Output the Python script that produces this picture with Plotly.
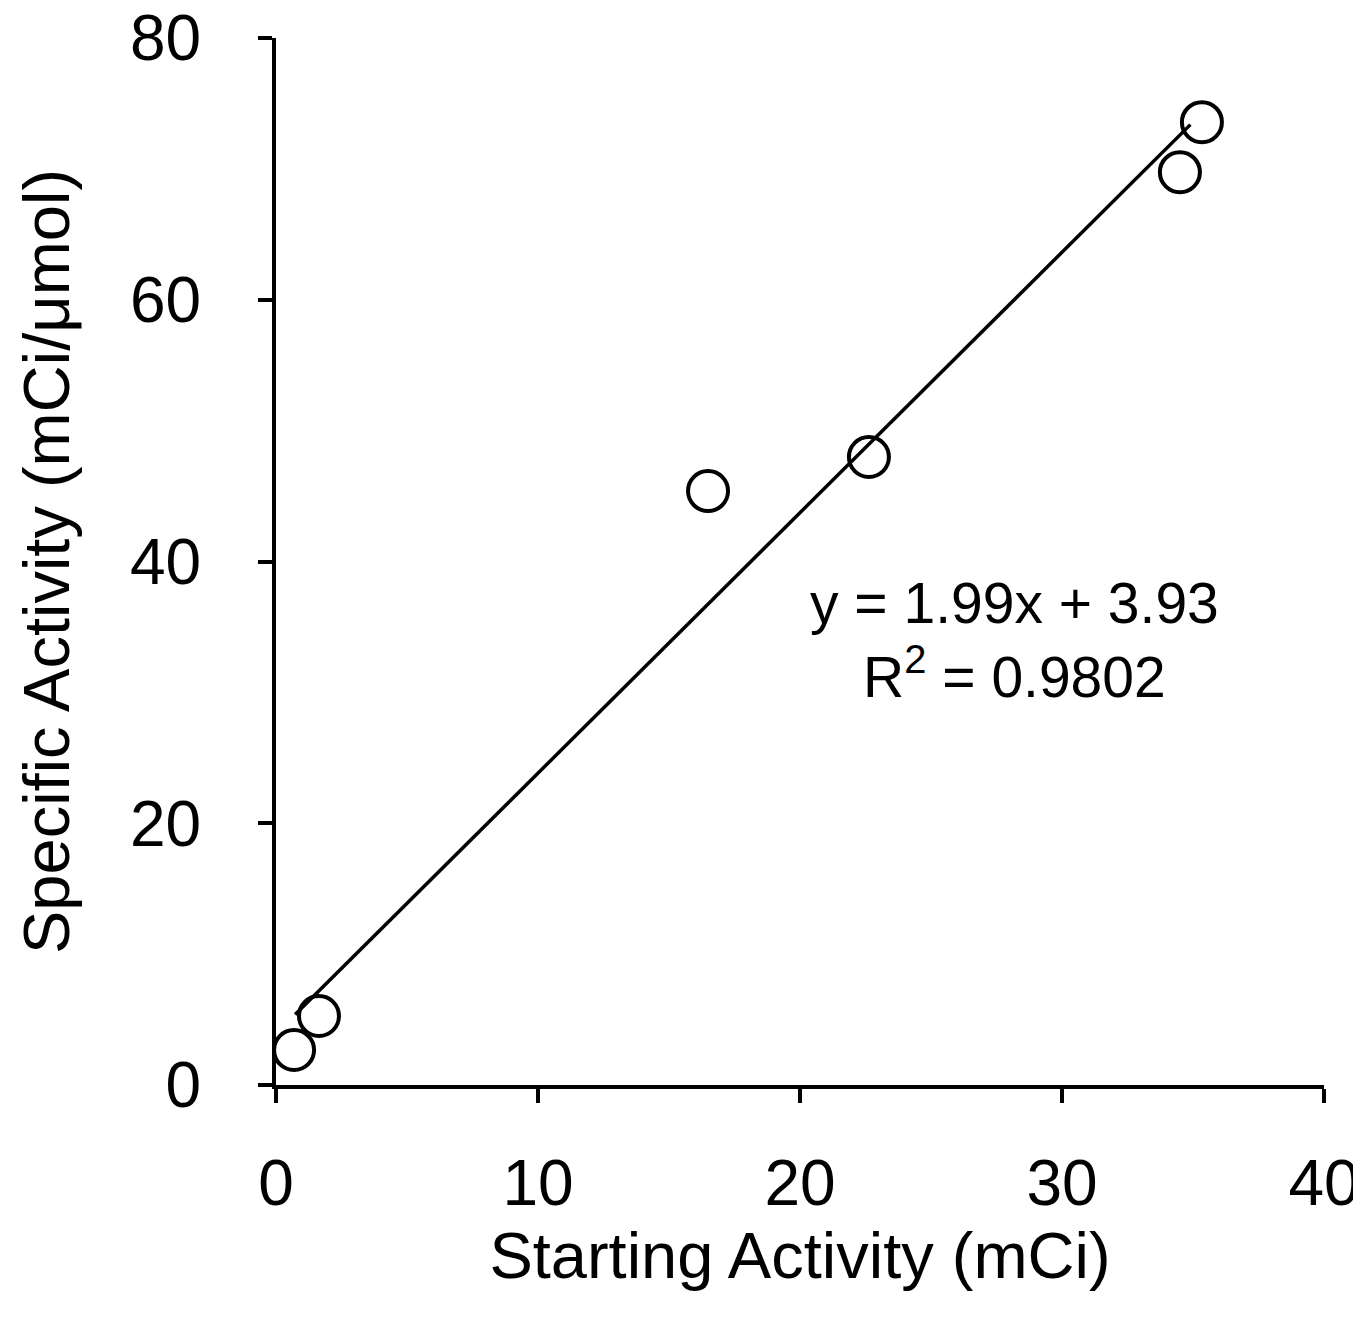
import plotly.graph_objects as go

# Data
starting_activity = [0.69, 1.64, 16.49, 22.63, 34.50, 35.34]   # mCi
specific_activity = [2.67, 5.27, 45.38, 47.98, 69.75, 73.57]   # mCi/umol

slope = 1.99
intercept = 3.93
fit_x = [0.73, 34.9]
fit_y = [slope * v + intercept for v in fit_x]

x_ticks = [0, 10, 20, 30, 40]
y_ticks = [0, 20, 40, 60, 80]

FONT = "Liberation Sans, Arial, Helvetica, sans-serif"

fig = go.Figure()
fig.add_trace(go.Scatter(
    x=fit_x, y=fit_y, mode="lines",
    line=dict(color="black", width=3.5), showlegend=False, hoverinfo="skip"))
fig.add_trace(go.Scatter(
    x=starting_activity, y=specific_activity, mode="markers",
    marker=dict(symbol="circle-open", size=40, color="black",
                line=dict(color="black", width=4)),
    showlegend=False))

fig.add_annotation(
    x=28.2, y=34.0, xref="x", yref="y",
    text="y = 1.99x + 3.93<br>R<sup>2</sup> = 0.9802",
    showarrow=False, align="center",
    font=dict(family=FONT, size=57, color="black"))

axis_common = dict(
    showline=True, linecolor="black", linewidth=4,
    ticks="outside", ticklen=14, tickwidth=3.5, tickcolor="black",
    showgrid=False, zeroline=False, automargin=False,
    ticklabeloverflow="allow",
    tickfont=dict(family=FONT, size=64, color="black"),
)

# The page has an 8px body margin, so the figure is sized to fit after it.
fig.update_layout(
    width=1353, height=1309,
    paper_bgcolor="white", plot_bgcolor="white",
    margin=dict(l=268, r=37, t=30, b=232),
    xaxis=dict(range=[0, 40], tickvals=x_ticks, ticklabelstandoff=25,
               title=dict(text="Starting Activity (mCi)", standoff=13,
                          font=dict(family=FONT, size=65, color="black")),
               **axis_common),
    yaxis=dict(range=[0, 80], tickvals=y_ticks, ticklabelstandoff=44,
               title=dict(text="Specific Activity (mCi/μmol)", standoff=40,
                          font=dict(family=FONT, size=65, color="black")),
               **axis_common),
)

fig.write_html("out.html")
